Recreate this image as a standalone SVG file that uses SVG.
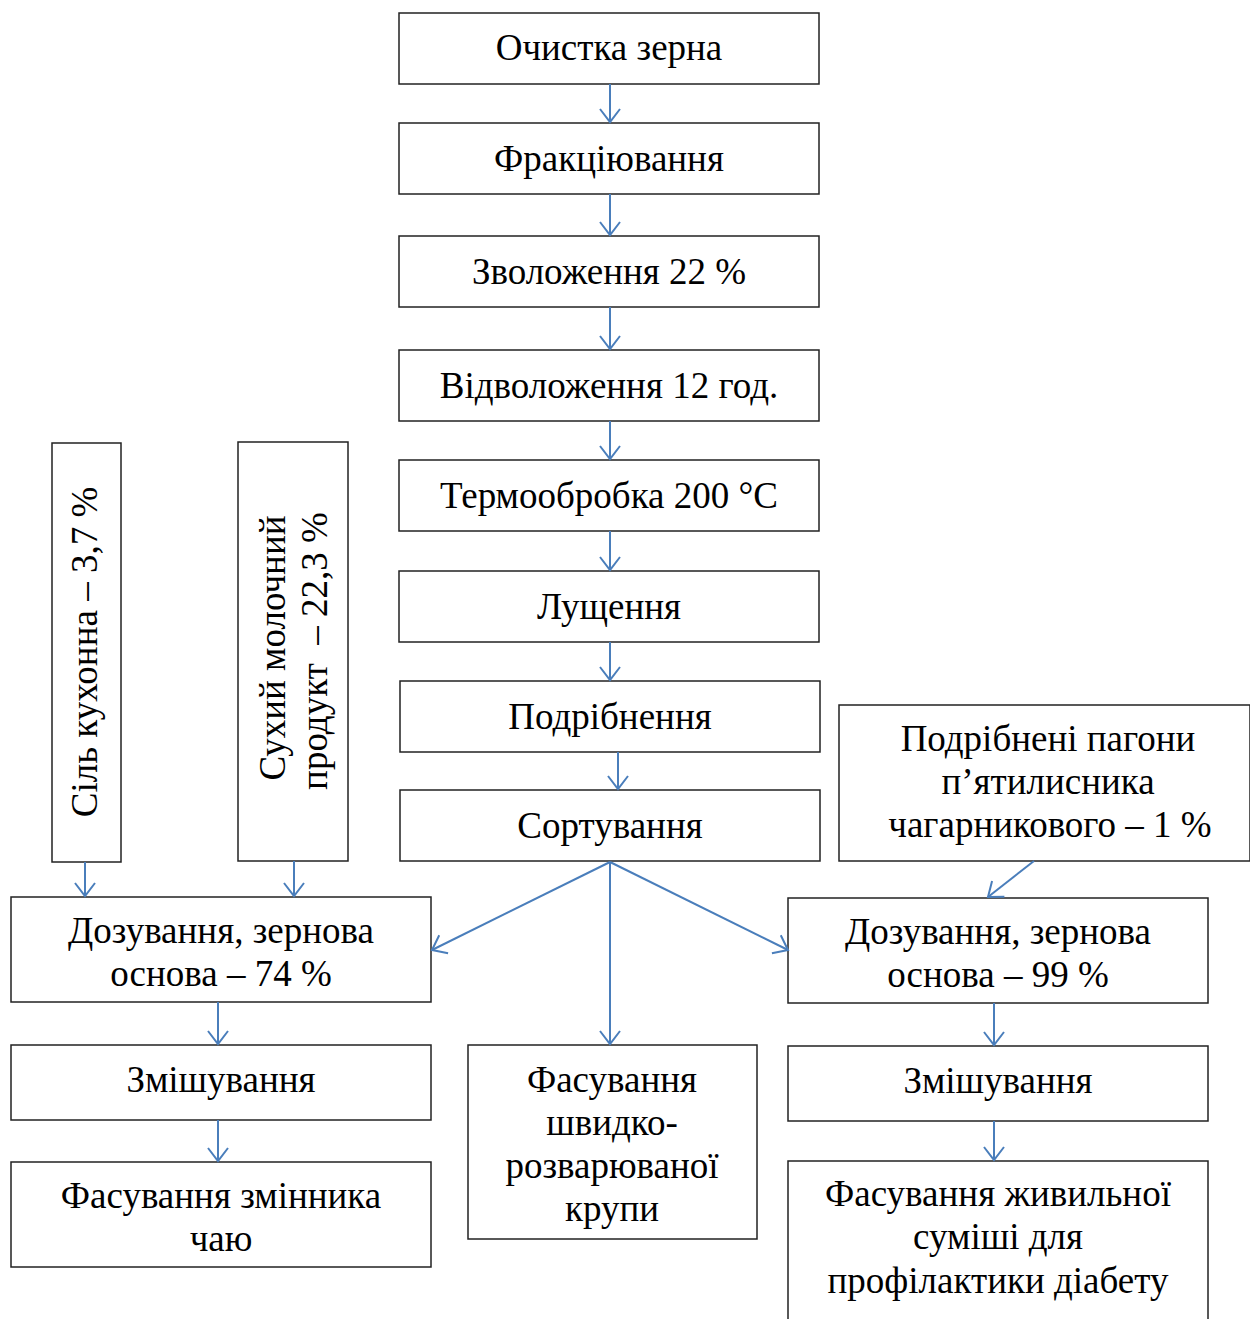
<svg xmlns="http://www.w3.org/2000/svg" width="1250" height="1319" viewBox="0 0 1250 1319">
<style>
.b{fill:#fff;stroke:#222;stroke-width:1.5}
.t{font-family:"Liberation Serif","Times New Roman",serif;font-size:37px;fill:#000;text-anchor:middle}
.c{fill:none;stroke:#4a7ebb;stroke-width:2}
</style>
<defs>
<marker id="a" markerUnits="userSpaceOnUse" markerWidth="16" markerHeight="24" viewBox="0 0 16 24" refX="14" refY="12" orient="auto">
<path d="M1,2 L14,12 L1,22" fill="none" stroke="#4a7ebb" stroke-width="2"/>
</marker>
</defs>
<rect width="1250" height="1319" fill="#fff"/>
<g id="n1"><rect class="b" x="399" y="13" width="420" height="71"/><text class="t" x="609" y="60">Очистка зерна</text></g>
<g id="n2"><rect class="b" x="399" y="123" width="420" height="71"/><text class="t" x="609" y="171">Фракціювання</text></g>
<g id="n3"><rect class="b" x="399" y="236" width="420" height="71"/><text class="t" x="609" y="284">Зволоження 22 %</text></g>
<g id="n4"><rect class="b" x="399" y="350" width="420" height="71"/><text class="t" x="609" y="398">Відволоження 12 год.</text></g>
<g id="n5"><rect class="b" x="399" y="460" width="420" height="71"/><text class="t" x="609" y="508">Термообробка 200 °С</text></g>
<g id="n6"><rect class="b" x="399" y="571" width="420" height="71"/><text class="t" x="609" y="619">Лущення</text></g>
<g id="n7"><rect class="b" x="400" y="681" width="420" height="71"/><text class="t" x="610" y="729">Подрібнення</text></g>
<g id="n8"><rect class="b" x="400" y="790" width="420" height="71"/><text class="t" x="610" y="838">Сортування</text></g>
<g id="salt"><rect class="b" x="52" y="443" width="69" height="419"/><text class="t" transform="translate(97,652) rotate(-90)">Сіль кухонна – 3,7 %</text></g>
<g id="milk"><rect class="b" x="238" y="442" width="110" height="419"/><text class="t" transform="translate(285,648) rotate(-90)">Сухий молочний</text><text class="t" xml:space="preserve" transform="translate(327,651) rotate(-90)">продукт  – 22,3 %</text></g>
<g id="herb"><rect class="b" x="839" y="705" width="411" height="156"/><text class="t" x="1048" y="751">Подрібнені пагони</text><text class="t" x="1048" y="794">п’ятилисника</text><text class="t" x="1050" y="837">чагарникового – 1 %</text></g>
<g id="doseL"><rect class="b" x="11" y="897" width="420" height="105"/><text class="t" x="221" y="943">Дозування, зернова</text><text class="t" x="221" y="986">основа – 74 %</text></g>
<g id="doseR"><rect class="b" x="788" y="898" width="420" height="105"/><text class="t" x="998" y="944">Дозування, зернова</text><text class="t" x="998" y="987">основа – 99 %</text></g>
<g id="mixL"><rect class="b" x="11" y="1045" width="420" height="75"/><text class="t" x="221" y="1092">Змішування</text></g>
<g id="packM"><rect class="b" x="468" y="1045" width="289" height="194"/><text class="t" x="612" y="1092">Фасування</text><text class="t" x="612" y="1135">швидко-</text><text class="t" x="612" y="1178">розварюваної</text><text class="t" x="612" y="1221">крупи</text></g>
<g id="mixR"><rect class="b" x="788" y="1046" width="420" height="75"/><text class="t" x="998" y="1093">Змішування</text></g>
<g id="packL"><rect class="b" x="11" y="1162" width="420" height="105"/><text class="t" x="221" y="1208">Фасування змінника</text><text class="t" x="221" y="1251">чаю</text></g>
<g id="packR"><rect class="b" x="788" y="1161" width="420" height="180"/><text class="t" x="998" y="1206">Фасування живильної</text><text class="t" x="998" y="1249">суміші для</text><text class="t" x="998" y="1293">профілактики діабету</text></g>
<g id="connectors">
<line class="c" x1="610" y1="84" x2="610" y2="122" marker-end="url(#a)"/>
<line class="c" x1="610" y1="194" x2="610" y2="235" marker-end="url(#a)"/>
<line class="c" x1="610" y1="307" x2="610" y2="349" marker-end="url(#a)"/>
<line class="c" x1="610" y1="421" x2="610" y2="459" marker-end="url(#a)"/>
<line class="c" x1="610" y1="531" x2="610" y2="570" marker-end="url(#a)"/>
<line class="c" x1="610" y1="642" x2="610" y2="680" marker-end="url(#a)"/>
<line class="c" x1="618" y1="752" x2="618" y2="789" marker-end="url(#a)"/>
<line class="c" x1="85" y1="862" x2="85" y2="896" marker-end="url(#a)"/>
<line class="c" x1="294" y1="861" x2="294" y2="896" marker-end="url(#a)"/>
<line class="c" x1="610" y1="862" x2="432" y2="950" marker-end="url(#a)"/>
<line class="c" x1="610" y1="862" x2="788" y2="950" marker-end="url(#a)"/>
<line class="c" x1="610" y1="862" x2="610" y2="1044" marker-end="url(#a)"/>
<line class="c" x1="1034" y1="861" x2="988" y2="897" marker-end="url(#a)"/>
<line class="c" x1="218" y1="1002" x2="218" y2="1044" marker-end="url(#a)"/>
<line class="c" x1="218" y1="1120" x2="218" y2="1161" marker-end="url(#a)"/>
<line class="c" x1="994" y1="1003" x2="994" y2="1045" marker-end="url(#a)"/>
<line class="c" x1="994" y1="1121" x2="994" y2="1160" marker-end="url(#a)"/>
</g>
</svg>
